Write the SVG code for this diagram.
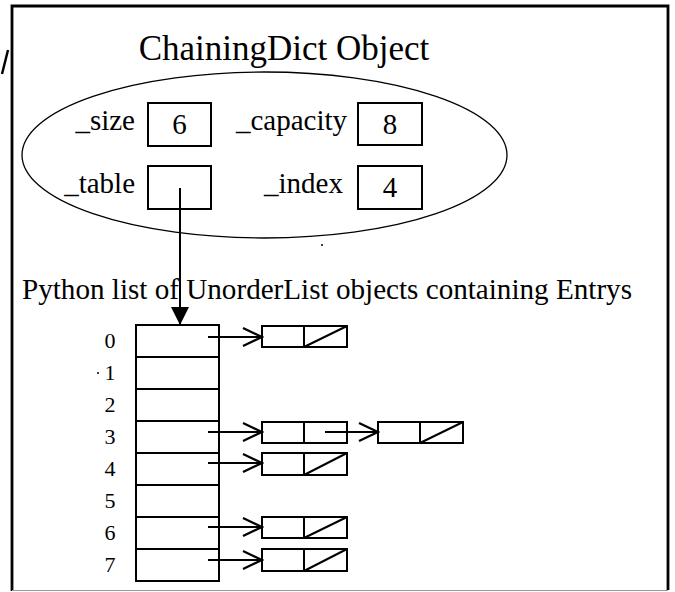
<svg xmlns="http://www.w3.org/2000/svg" width="675" height="592" viewBox="0 0 675 592">
<defs>
<marker id="open" markerUnits="userSpaceOnUse" markerWidth="22" markerHeight="22" viewBox="0 0 22 22" refX="20" refY="10" orient="auto">
<path d="M1,1 L20,10 L1,19" fill="none" stroke="#000" stroke-width="2.2"/>
</marker>
<marker id="solid" markerUnits="userSpaceOnUse" markerWidth="20" markerHeight="20" viewBox="0 0 20 20" refX="18" refY="10" orient="auto">
<path d="M0,1 L18,10 L0,19 Z" fill="#000"/>
</marker>
</defs>
<style>
.t{font-family:"Liberation Serif","Times New Roman",serif;fill:#000}
.f{font-size:29px}
.n{font-size:22px}
.b{fill:#fff;stroke:#000;stroke-width:2}
.l{stroke:#000;stroke-width:2;fill:none}
</style>
<rect width="675" height="592" fill="#fff"/>
<g id="frame">
<path d="M12,591 L12,6 L668,6 L668,590" fill="none" stroke="#000" stroke-width="2.8"/>
<line x1="12" y1="590.5" x2="668" y2="590.5" stroke="#999" stroke-width="1.2"/>
<line x1="2" y1="74" x2="8" y2="50" stroke="#000" stroke-width="2.5"/>
<circle cx="322" cy="245" r="1" fill="#000"/>
<circle cx="98" cy="373" r="1" fill="#000"/>
</g>
<g id="object">
<text class="t" x="284" y="60" font-size="35" text-anchor="middle">ChainingDict Object</text>
<ellipse cx="264.5" cy="155" rx="242.5" ry="83" fill="none" stroke="#000" stroke-width="1.3"/>
</g>
<g id="size">
<text class="t f" x="135" y="130" text-anchor="end">_size</text>
<rect class="b" x="148" y="103" width="63" height="43"/>
<text class="t f" x="179.5" y="134" text-anchor="middle">6</text>
</g>
<g id="capacity">
<text class="t f" x="347" y="130" text-anchor="end">_capacity</text>
<rect class="b" x="358" y="103" width="64" height="42"/>
<text class="t f" x="390" y="134" text-anchor="middle">8</text>
</g>
<g id="table">
<text class="t f" x="135" y="193" text-anchor="end">_table</text>
<rect class="b" x="148" y="166" width="63" height="43"/>
</g>
<g id="index">
<text class="t f" x="343" y="193" text-anchor="end">_index</text>
<rect class="b" x="358" y="166" width="64" height="43"/>
<text class="t f" x="390" y="197" text-anchor="middle">4</text>
</g>
<text class="t f" x="22" y="299" textLength="610" lengthAdjust="spacingAndGlyphs">Python list of UnorderList objects containing Entrys</text>
<g id="list">
<rect class="b" x="136" y="325" width="83" height="256"/>
<path class="l" d="M136,357H219M136,389H219M136,421H219M136,453H219M136,485H219M136,517H219M136,549H219"/>
<g class="t n" text-anchor="middle">
<text x="110" y="348">0</text>
<text x="110" y="380">1</text>
<text x="110" y="412">2</text>
<text x="110" y="444">3</text>
<text x="110" y="476">4</text>
<text x="110" y="508">5</text>
<text x="110" y="540">6</text>
<text x="110" y="572">7</text>
</g>
</g>
<g id="node0">
<rect class="b" x="262" y="326" width="85" height="21"/>
<path class="l" d="M304,326V347M304,347L347,326"/>
</g>
<g id="node3a">
<rect class="b" x="262" y="422" width="85" height="21"/>
<path class="l" d="M304,422V443"/>
</g>
<g id="node3b">
<rect class="b" x="378" y="422" width="85" height="21"/>
<path class="l" d="M420,422V443M420,443L463,422"/>
</g>
<g id="node4">
<rect class="b" x="262" y="453" width="85" height="22"/>
<path class="l" d="M304,453V475M304,475L347,453"/>
</g>
<g id="node6">
<rect class="b" x="262" y="517" width="85" height="21"/>
<path class="l" d="M304,517V538M304,538L347,517"/>
</g>
<g id="node7">
<rect class="b" x="262" y="549" width="85" height="22"/>
<path class="l" d="M304,549V571M304,571L347,549"/>
</g>
<g id="connectors" class="l">
<line x1="180" y1="188" x2="180" y2="325" marker-end="url(#solid)"/>
<line x1="208" y1="337" x2="262" y2="337" marker-end="url(#open)"/>
<line x1="208" y1="432" x2="262" y2="432" marker-end="url(#open)"/>
<line x1="325" y1="432" x2="378" y2="432" marker-end="url(#open)"/>
<line x1="208" y1="463" x2="262" y2="463" marker-end="url(#open)"/>
<line x1="208" y1="527" x2="262" y2="527" marker-end="url(#open)"/>
<line x1="208" y1="560" x2="262" y2="560" marker-end="url(#open)"/>
</g>
</svg>
